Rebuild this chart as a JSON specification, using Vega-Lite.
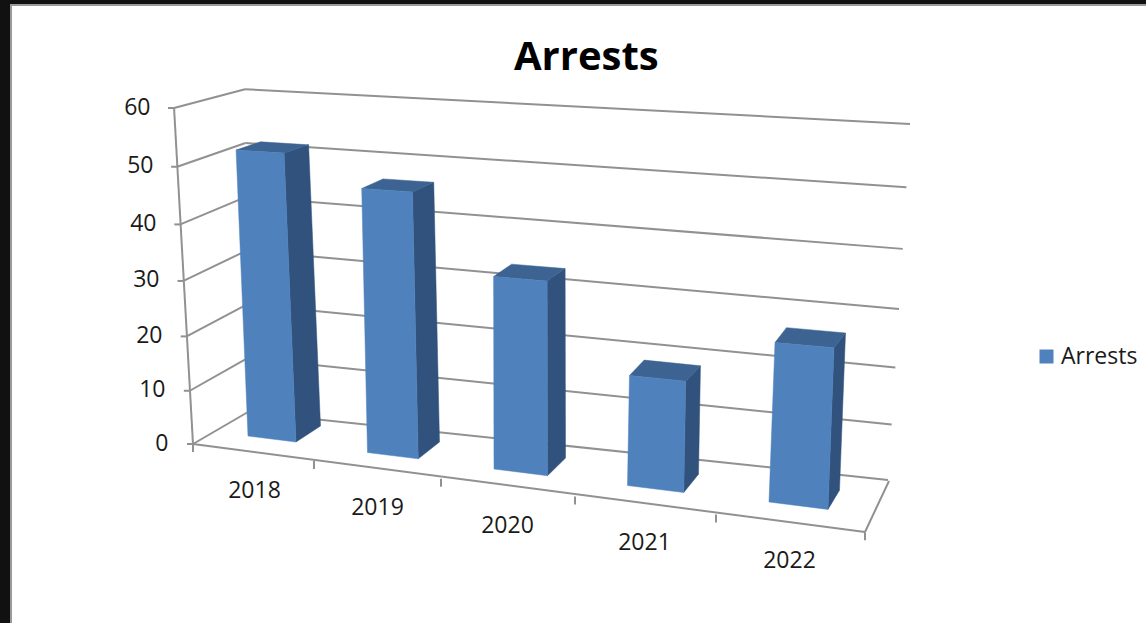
{
  "$schema": "https://vega.github.io/schema/vega-lite/v6.json",
  "width": 1137,
  "height": 620,
  "autosize": "none",
  "padding": {"left": 11, "top": 5, "right": -2, "bottom": -2},
  "background": "#111111",
  "view": {"fill": "#ffffff", "stroke": "#9a9a9a", "strokeWidth": 2},
  "title": {"text": "Arrests", "font": "Open Sans", "fontSize": 40, "fontWeight": "bold", "color": "#000000", "anchor": "start", "dx": 503, "offset": -73},
  "config": {"font": "Open Sans"},
  "datasets": {
    "bars": [
      {"year": 2018, "arrests": 52, "base_near": 0, "base_far": 0, "top_far": 52, "top_near": 52},
      {"year": 2019, "arrests": 48, "base_near": 0, "base_far": 0, "top_far": 48, "top_near": 48},
      {"year": 2020, "arrests": 35, "base_near": 0, "base_far": 0, "top_far": 35, "top_near": 35},
      {"year": 2021, "arrests": 20, "base_near": 0, "base_far": 0, "top_far": 20, "top_near": 20},
      {"year": 2022, "arrests": 29, "base_near": 0, "base_far": 0, "top_far": 29, "top_near": 29}
    ],
    "levels": [{"value": 0}, {"value": 10}, {"value": 20}, {"value": 30}, {"value": 40}, {"value": 50}, {"value": 60}],
    "frame": [{"part": "edge"}]
  },
  "layer": [
    {
      "description": "Side wall: from the front-left axis edge to the back wall",
      "data": {"name": "levels"},
      "mark": {
        "type": "rule", "color": "#919191", "strokeWidth": 2,
        "xOffset": {"expr": "-61-0.3167*datum.value"},
        "yOffset": {"expr": "1+datum.value*(60-datum.value)*0.0055"},
        "x2Offset": {"expr": "-6-0.05*datum.value"},
        "y2Offset": {"expr": "-31+0.22*datum.value"}
      },
      "encoding": {
        "x": {
          "datum": 2018, "type": "quantitative",
          "scale": {"domain": [2018, 2019, 2020, 2021, 2022], "range": [243, 366, 496, 633, 778], "zero": false, "nice": false},
          "axis": {
            "title": null, "values": [2018, 2019, 2020, 2021, 2022], "format": "d", "grid": false, "domain": false, "ticks": false,
            "offset": -135, "labelPadding": 0, "labelBaseline": "middle", "labelFlush": false, "labelOverlap": false, "labelFontSize": 23, "labelColor": "#1a1a1a", "labelFont": "Open Sans",
            "encoding": {"labels": {"dy": {"value": {"expr": "(datum.value-2018)*17.6"}}}}
          }
        },
        "x2": {"datum": 2018},
        "y": {
          "field": "value", "type": "quantitative",
          "scale": {"domain": [0, 60], "range": [438, 102], "zero": false, "nice": false},
          "axis": {
            "title": null, "values": [0, 10, 20, 30, 40, 50, 60], "grid": false, "domain": false, "ticks": false,
            "offset": -157, "labelPadding": 0, "labelFlush": false, "labelOverlap": false, "labelFontSize": 23, "labelColor": "#1a1a1a", "labelFont": "Open Sans",
            "encoding": {"labels": {"dx": {"value": {"expr": "-0.3*datum.value"}}, "dy": {"value": {"expr": "datum.value*(60-datum.value)*0.0055"}}}}
          }
        },
        "y2": {"field": "value"}
      }
    },
    {
      "description": "Back wall gridlines",
      "data": {"name": "levels"},
      "mark": {
        "type": "rule", "color": "#919191", "strokeWidth": 2,
        "xOffset": {"expr": "-6-0.05*datum.value"},
        "yOffset": {"expr": "-31+0.22*datum.value"},
        "x2Offset": {"expr": "99+0.367*datum.value"},
        "y2Offset": {"expr": "37+0.133*datum.value-0.00778*datum.value*datum.value"}
      },
      "encoding": {
        "x": {"datum": 2018, "type": "quantitative"},
        "x2": {"datum": 2022},
        "y": {"field": "value", "type": "quantitative"},
        "y2": {"field": "value"}
      }
    },
    {
      "description": "Short ticks on the slanted value axis",
      "data": {"name": "levels"},
      "mark": {
        "type": "rule", "color": "#919191", "strokeWidth": 2,
        "xOffset": {"expr": "-67-0.3167*datum.value"},
        "yOffset": {"expr": "1+datum.value*(60-datum.value)*0.0055"},
        "x2Offset": {"expr": "-61-0.3167*datum.value"},
        "y2Offset": {"expr": "1+datum.value*(60-datum.value)*0.0055"}
      },
      "encoding": {
        "x": {"datum": 2018, "type": "quantitative"},
        "x2": {"datum": 2018},
        "y": {"field": "value", "type": "quantitative"},
        "y2": {"field": "value"}
      }
    },
    {
      "description": "Slanted value axis line",
      "data": {"name": "frame"},
      "mark": {"type": "rule", "color": "#919191", "strokeWidth": 2, "xOffset": -80, "yOffset": 0, "x2Offset": -61, "y2Offset": 337},
      "encoding": {
        "x": {"datum": 2018, "type": "quantitative"},
        "x2": {"datum": 2018},
        "y": {"datum": 60, "type": "quantitative"},
        "y2": {"datum": 60}
      }
    },
    {
      "description": "Front edge of the floor",
      "data": {"name": "frame"},
      "mark": {"type": "rule", "color": "#919191", "strokeWidth": 2, "xOffset": -61, "yOffset": 1, "x2Offset": 76, "y2Offset": 89},
      "encoding": {
        "x": {"datum": 2018, "type": "quantitative"},
        "x2": {"datum": 2022},
        "y": {"datum": 0, "type": "quantitative"},
        "y2": {"datum": 0}
      }
    },
    {
      "description": "Right edge of the floor",
      "data": {"name": "frame"},
      "mark": {"type": "rule", "color": "#919191", "strokeWidth": 2, "xOffset": 76, "yOffset": 89, "x2Offset": 100, "y2Offset": 38},
      "encoding": {
        "x": {"datum": 2022, "type": "quantitative"},
        "x2": {"datum": 2022},
        "y": {"datum": 0, "type": "quantitative"},
        "y2": {"datum": 0}
      }
    },
    {
      "description": "Category ticks along the front floor edge",
      "data": {"name": "bars"},
      "mark": {
        "type": "rule", "color": "#919191", "strokeWidth": 2,
        "xOffset": {"expr": "60+4*(datum.year-2018)"},
        "x2Offset": {"expr": "60+4*(datum.year-2018)"},
        "yOffset": {"expr": "18+17.8*(datum.year-2018)"},
        "y2Offset": {"expr": "26+17.8*(datum.year-2018)"}
      },
      "encoding": {
        "x": {"field": "year", "type": "quantitative"},
        "x2": {"field": "year"},
        "y": {"datum": 0, "type": "quantitative"},
        "y2": {"datum": 0}
      }
    },
    {
      "description": "First category tick at the floor corner",
      "data": {"name": "frame"},
      "mark": {"type": "rule", "color": "#919191", "strokeWidth": 2, "xOffset": -61, "x2Offset": -61, "yOffset": 1, "y2Offset": 9},
      "encoding": {
        "x": {"datum": 2018, "type": "quantitative"},
        "x2": {"datum": 2018},
        "y": {"datum": 0, "type": "quantitative"},
        "y2": {"datum": 0}
      }
    },
    {
      "description": "Bar side faces",
      "data": {"name": "bars"},
      "transform": [{"fold": ["base_near", "base_far", "top_far", "top_near"], "as": ["corner", "level"]}],
      "mark": {
        "type": "line", "interpolate": "linear-closed", "fill": "#30527c", "stroke": "#30527c", "strokeWidth": 0.5,
        "xOffset": {"expr": "-6-3.5*(datum.year-2018)+(48+2.75*(datum.year-2018))+((datum.year-2018)-2.1)*0.109*datum.level+(indexof(datum.corner,'far')>=0?1:0)*(24.5-3.25*(datum.year-2018))"},
        "yOffset": {"expr": "0.1*datum.level-7+16.5*(datum.year-2018)+(48+2.75*(datum.year-2018))*(0.125-0.0012*datum.level)+(indexof(datum.corner,'far')>=0?1:0)*(0.15*datum.level-16-0.8*(datum.year-2018))"}
      },
      "encoding": {
        "x": {"field": "year", "type": "quantitative"},
        "y": {"field": "level", "type": "quantitative"},
        "detail": {"field": "year"},
        "order": {"value": null}
      }
    },
    {
      "description": "Bar top faces",
      "data": {"name": "bars"},
      "transform": [{"fold": ["base_near", "base_far", "top_far", "top_near"], "as": ["corner", "level"]}],
      "mark": {
        "type": "line", "interpolate": "linear-closed", "fill": "#3c6391", "stroke": "#3c6391", "strokeWidth": 0.5,
        "xOffset": {"expr": "-6-3.5*(datum.year-2018)+(indexof(datum.corner,'far')>=0?1:0)*(48+2.75*(datum.year-2018))+((datum.year-2018)-2.1)*0.109*datum.arrests+(indexof(datum.corner,'top')>=0?1:0)*(24.5-3.25*(datum.year-2018))"},
        "yOffset": {"expr": "0.1*datum.arrests-7+16.5*(datum.year-2018)+(indexof(datum.corner,'far')>=0?1:0)*(48+2.75*(datum.year-2018))*(0.125-0.0012*datum.arrests)+(indexof(datum.corner,'top')>=0?1:0)*(0.15*datum.arrests-16-0.8*(datum.year-2018))"}
      },
      "encoding": {
        "x": {"field": "year", "type": "quantitative"},
        "y": {"field": "arrests", "type": "quantitative"},
        "detail": {"field": "year"},
        "order": {"value": null}
      }
    },
    {
      "description": "Bar front faces, carrying the legend entry",
      "data": {"name": "bars"},
      "transform": [{"fold": ["base_near", "base_far", "top_far", "top_near"], "as": ["corner", "level"]}],
      "mark": {
        "type": "line", "interpolate": "linear-closed", "stroke": "#4f81bd", "strokeWidth": 0.5,
        "xOffset": {"expr": "-6-3.5*(datum.year-2018)+(indexof(datum.corner,'far')>=0?1:0)*(48+2.75*(datum.year-2018))+((datum.year-2018)-2.1)*0.109*datum.level"},
        "yOffset": {"expr": "0.1*datum.level-7+16.5*(datum.year-2018)+(indexof(datum.corner,'far')>=0?1:0)*(48+2.75*(datum.year-2018))*(0.125-0.0012*datum.level)"}
      },
      "encoding": {
        "x": {"field": "year", "type": "quantitative"},
        "y": {"field": "level", "type": "quantitative"},
        "detail": {"field": "year"},
        "order": {"value": null},
        "fill": {
          "datum": "Arrests",
          "scale": {"domain": ["Arrests"], "range": ["#4f81bd"]},
          "legend": {"title": null, "orient": "none", "legendX": 1024, "legendY": 340, "symbolType": "square", "symbolSize": 196, "symbolStrokeWidth": 0, "labelFontSize": 23, "labelColor": "#1a1a1a", "labelFont": "Open Sans", "labelOffset": 3}
        }
      }
    }
  ]
}
